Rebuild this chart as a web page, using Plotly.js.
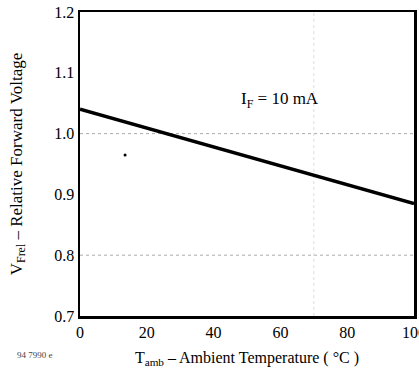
<!DOCTYPE html>
<html><head><meta charset="utf-8">
<script src="https://cdn.plot.ly/plotly-3.0.1.min.js"></script>
<style>html,body{margin:0;padding:0;background:#fff;}#chart{width:419px;height:375px;}</style>
</head><body><div id="chart"></div>
<script>
const temperature = [0, 100];
const relVoltage = [1.04, 0.885];
const specX = [13.5];
const specY = [0.965];
const xTicks = [0, 20, 40, 60, 80, 100];
const yTicks = [0.7, 0.8, 0.9, 1.0, 1.1, 1.2];
const yTickText = ['0.7', '0.8', '0.9', '1.0', '1.1', '1.2'];

const font = {family: 'Liberation Serif, Times New Roman, serif', size: 16, color: '#000'};
const titleFont = {family: 'Liberation Serif, Times New Roman, serif', size: 16, color: '#000'};
const yTitleFont = {family: 'Liberation Serif, Times New Roman, serif', size: 17, color: '#000'};

const traces = [
  {x: temperature, y: relVoltage, type: 'scatter', mode: 'lines', line: {color: '#000', width: 3.5}, hoverinfo: 'skip', cliponaxis: false},
  {x: specX, y: specY, type: 'scatter', mode: 'markers', marker: {color: '#000', size: 3}, hoverinfo: 'skip'}
];

const layout = {
  width: 419, height: 375,
  margin: {l: 80, r: 5, t: 12, b: 59},
  paper_bgcolor: '#fff', plot_bgcolor: '#fff',
  showlegend: false,
  font: font,
  xaxis: {
    range: [0, 100], tickvals: xTicks, ticks: '', showgrid: false, zeroline: false,
    showline: true, linecolor: '#000', linewidth: 2.5, mirror: true,
    tickfont: font, ticklabeloverflow: 'allow',
    title: {text: 'T<sub>amb</sub> – Ambient Temperature ( °C )', font: titleFont, standoff: 12}
  },
  yaxis: {
    range: [0.7, 1.2], tickvals: yTicks, ticktext: yTickText, ticks: '', showgrid: false, zeroline: false,
    showline: true, linecolor: '#000', linewidth: 2.5, mirror: true,
    tickfont: font,
    title: {text: 'V<sub>Frel</sub> – Relative Forward Voltage', font: yTitleFont, standoff: 28}
  },
  shapes: [
    {type: 'line', xref: 'paper', yref: 'y', x0: 0, x1: 1, y0: 1.0, y1: 1.0, line: {color: '#aaa', width: 1, dash: 'dot'}, layer: 'below'},
    {type: 'line', xref: 'paper', yref: 'y', x0: 0, x1: 1, y0: 0.8, y1: 0.8, line: {color: '#aaa', width: 1, dash: 'dot'}, layer: 'below'},
    {type: 'line', xref: 'x', yref: 'paper', x0: 70, x1: 70, y0: 0, y1: 1, line: {color: '#ddd', width: 1, dash: 'dot'}, layer: 'below'}
  ],
  annotations: [
    {x: 60, y: 1.055, xref: 'x', yref: 'y', text: 'I<sub>F</sub> = 10 mA', showarrow: false, font: {family: 'Liberation Serif, serif', size: 17, color: '#000'}},
    {x: -0.135, y: -0.128, xref: 'paper', yref: 'paper', xanchor: 'center', yanchor: 'middle', text: '94 7990 e', showarrow: false, font: {family: 'Liberation Serif, serif', size: 9, color: '#444'}}
  ]
};

Plotly.newPlot('chart', traces, layout, {displayModeBar: false, staticPlot: true});
</script></body></html>
